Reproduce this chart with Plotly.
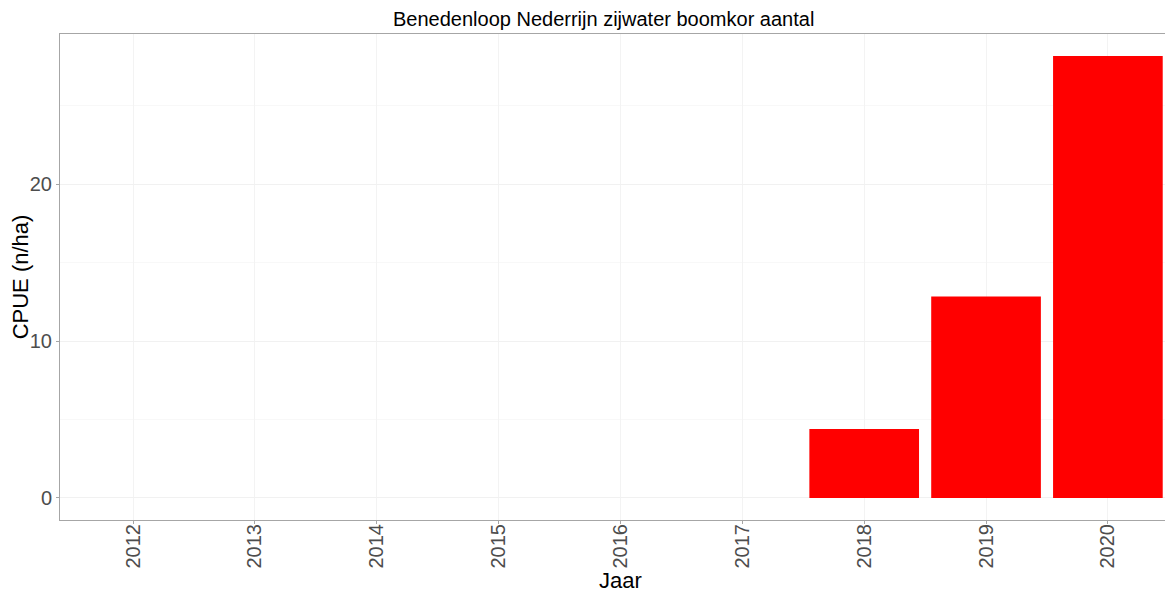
import plotly.graph_objects as go

# CPUE per jaar
jaar = ['2012', '2013', '2014', '2015', '2016', '2017', '2018', '2019', '2020']
cpue = [0, 0, 0, 0, 0, 0, 4.4, 12.84, 28.18]

fig = go.Figure()
fig.add_trace(
    go.Bar(
        x=jaar, y=cpue, width=0.9,
        marker=dict(color='#ff0000', line=dict(width=0)),
    )
)

# the page adds an 8px body margin, so everything is shifted by 8px
fig.update_layout(
    width=1173, height=592,
    margin=dict(l=52, r=0, t=26, b=80),
    paper_bgcolor='white', plot_bgcolor='white',
    font=dict(family='Liberation Sans, Arial, sans-serif', color='black'),
    showlegend=False,
    title=dict(
        text='Benedenloop Nederrijn zijwater boomkor aantal',
        x=0.485, xref='paper', xanchor='center',
        y=1 - 11 / 592, yref='container', yanchor='middle',
        font=dict(size=20, color='black'),
    ),
)

fig.update_xaxes(
    type='category', range=[-0.6, 8.6], automargin=False,
    showline=True, linecolor='#a6a6a6', linewidth=1, mirror=True,
    showgrid=True, gridcolor='#f3f3f3', gridwidth=1,
    ticks='outside', ticklen=3, tickcolor='#a6a6a6',
    ticklabelstandoff=-8,
    tickangle=-90, tickfont=dict(size=20, color='#4d4d4d'),
    title=dict(text='Jaar', font=dict(size=22, color='black'), standoff=3),
)

fig.update_yaxes(
    range=[-1.41, 29.59], tickvals=[0, 10, 20], automargin=False,
    showline=True, linecolor='#a6a6a6', linewidth=1,
    showgrid=True, gridcolor='#f1f1f1', gridwidth=1,
    minor=dict(tickvals=[5, 15, 25], showgrid=True, gridcolor='#f8f8f8', gridwidth=1),
    zeroline=False,
    ticks='outside', ticklen=3, tickcolor='#a6a6a6',
    tickfont=dict(size=20, color='#4d4d4d'),
    title=dict(text='CPUE (n/ha)', font=dict(size=22, color='black'), standoff=4),
)

fig.write_html("out.html")
